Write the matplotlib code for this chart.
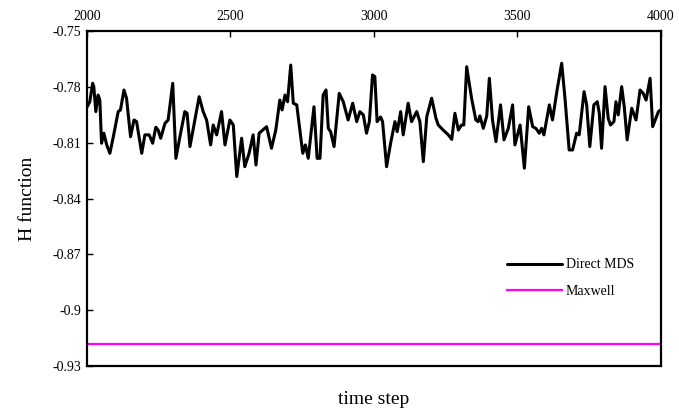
import matplotlib.pyplot as plt

plt.rcParams['font.family'] = ['Liberation Serif', 'DejaVu Serif']

# =========================
# DATA
# =========================
time_step = [
    2001, 2010, 2020, 2024, 2031, 2039, 2045, 2051, 2059, 2069,
    2080, 2092, 2109, 2117, 2129, 2138, 2152, 2164, 2173, 2191,
    2202, 2217, 2229, 2240, 2248, 2257, 2272, 2283, 2299, 2310,
    2324, 2341, 2349, 2359, 2373, 2391, 2405, 2417, 2431, 2440,
    2452, 2469, 2481, 2498, 2510, 2522, 2539, 2550, 2565, 2579,
    2589, 2600, 2626, 2643, 2658, 2672, 2680, 2690, 2699, 2710,
    2719, 2731, 2752, 2761, 2771, 2791, 2802, 2812, 2823, 2833,
    2841, 2849, 2861, 2879, 2893, 2910, 2926, 2940, 2951, 2963,
    2974, 2984, 2995, 3003, 3011, 3023, 3030, 3044, 3058, 3073,
    3081, 3093, 3102, 3119, 3131, 3149, 3160, 3172, 3184, 3201,
    3216, 3224, 3241, 3259, 3271, 3282, 3294, 3305, 3313, 3323,
    3340, 3355, 3363, 3369, 3381, 3393, 3402, 3413, 3425, 3441,
    3453, 3468, 3483, 3491, 3509, 3524, 3539, 3553, 3564, 3576,
    3584, 3592, 3611, 3622, 3638, 3654, 3665, 3680, 3692, 3706,
    3715, 3732, 3741, 3752, 3766, 3778, 3785, 3793, 3805, 3816,
    3824, 3836, 3843, 3851, 3863, 3872, 3882, 3898, 3913, 3927,
    3938, 3948, 3962, 3971, 3991, 3999,
]

h_mds = [
    -0.7907, -0.7880, -0.7781, -0.7799, -0.7933, -0.7844, -0.7871, -0.8103, -0.8049, -0.8112,
    -0.8157, -0.8068, -0.7933, -0.7924, -0.7817, -0.7861, -0.8068, -0.7978, -0.7987, -0.8157,
    -0.8058, -0.8058, -0.8103, -0.8017, -0.8032, -0.8076, -0.7996, -0.7978, -0.7781, -0.8184,
    -0.8068, -0.7933, -0.7942, -0.8121, -0.8005, -0.7853, -0.7933, -0.7978, -0.8112, -0.8005,
    -0.8058, -0.7933, -0.8112, -0.7978, -0.8005, -0.8282, -0.8076, -0.8229, -0.8157, -0.8058,
    -0.8220, -0.8049, -0.8014, -0.8130, -0.8032, -0.7871, -0.7924, -0.7844, -0.7880, -0.7683,
    -0.7888, -0.7897, -0.8157, -0.8112, -0.8184, -0.7907, -0.8184, -0.8184, -0.7844, -0.7817,
    -0.8023, -0.8041, -0.8121, -0.7835, -0.7880, -0.7978, -0.7888, -0.7987, -0.7933, -0.7951,
    -0.8049, -0.7987, -0.7736, -0.7745, -0.7987, -0.7962, -0.7987, -0.8229, -0.8103, -0.7987,
    -0.8041, -0.7933, -0.8058, -0.7888, -0.7987, -0.7933, -0.7987, -0.8202, -0.7960, -0.7861,
    -0.7969, -0.8005, -0.8032, -0.8058, -0.8082, -0.7942, -0.8032, -0.8005, -0.8005, -0.7692,
    -0.7861, -0.7978, -0.7987, -0.7956, -0.8023, -0.7956, -0.7754, -0.7978, -0.8094, -0.7897,
    -0.8085, -0.8023, -0.7897, -0.8112, -0.8005, -0.8237, -0.7907, -0.8014, -0.8023, -0.8049,
    -0.8023, -0.8058, -0.7897, -0.7978, -0.7817, -0.7673, -0.7853, -0.8139, -0.8139, -0.8049,
    -0.8058, -0.7826, -0.7897, -0.8121, -0.7897, -0.7880, -0.7942, -0.8130, -0.7799, -0.7969,
    -0.8005, -0.7987, -0.7880, -0.7951, -0.7799, -0.7907, -0.8085, -0.7915, -0.7978, -0.7817,
    -0.7835, -0.7871, -0.7754, -0.8014, -0.7933, -0.7924,
]

h_maxwell = -0.918

x_ticks = [2000, 2500, 3000, 3500, 4000]
y_ticks = [-0.75, -0.78, -0.81, -0.84, -0.87, -0.9, -0.93]
y_ticklabels = ['-0.75', '-0.78', '-0.81', '-0.84', '-0.87', '-0.9', '-0.93']

# =========================
# PLOT
# =========================
fig = plt.figure(figsize=(6.79, 4.16), dpi=100)
ax = fig.add_axes([0.128, 0.12, 0.8455, 0.8055])

ax.plot(time_step, h_mds, color='black', lw=2.2, solid_joinstyle='round',
        solid_capstyle='round', label='Direct MDS')
ax.axhline(h_maxwell, color='#ff00ff', lw=1.6, label='Maxwell')

ax.set_xlim(2000, 4000)
ax.set_ylim(-0.93, -0.75)

ax.xaxis.tick_top()
ax.set_xticks(x_ticks)
ax.set_yticks(y_ticks)
ax.set_yticklabels(y_ticklabels)
ax.tick_params(axis='both', direction='in', length=4, width=1,
               labelsize=10, pad=4)
ax.tick_params(axis='x', pad=6)

for sp in ax.spines.values():
    sp.set_linewidth(1.6)

ax.set_ylabel('H function', fontsize=14, labelpad=12)
fig.text(0.55, 0.03, 'time step', fontsize=14, ha='center')

ax.legend(loc='lower right', bbox_to_anchor=(0.975, 0.165), frameon=False,
          fontsize=10, handlelength=4.0, handletextpad=0.25,
          labelspacing=1.0)

plt.savefig('out.png', dpi=100)
